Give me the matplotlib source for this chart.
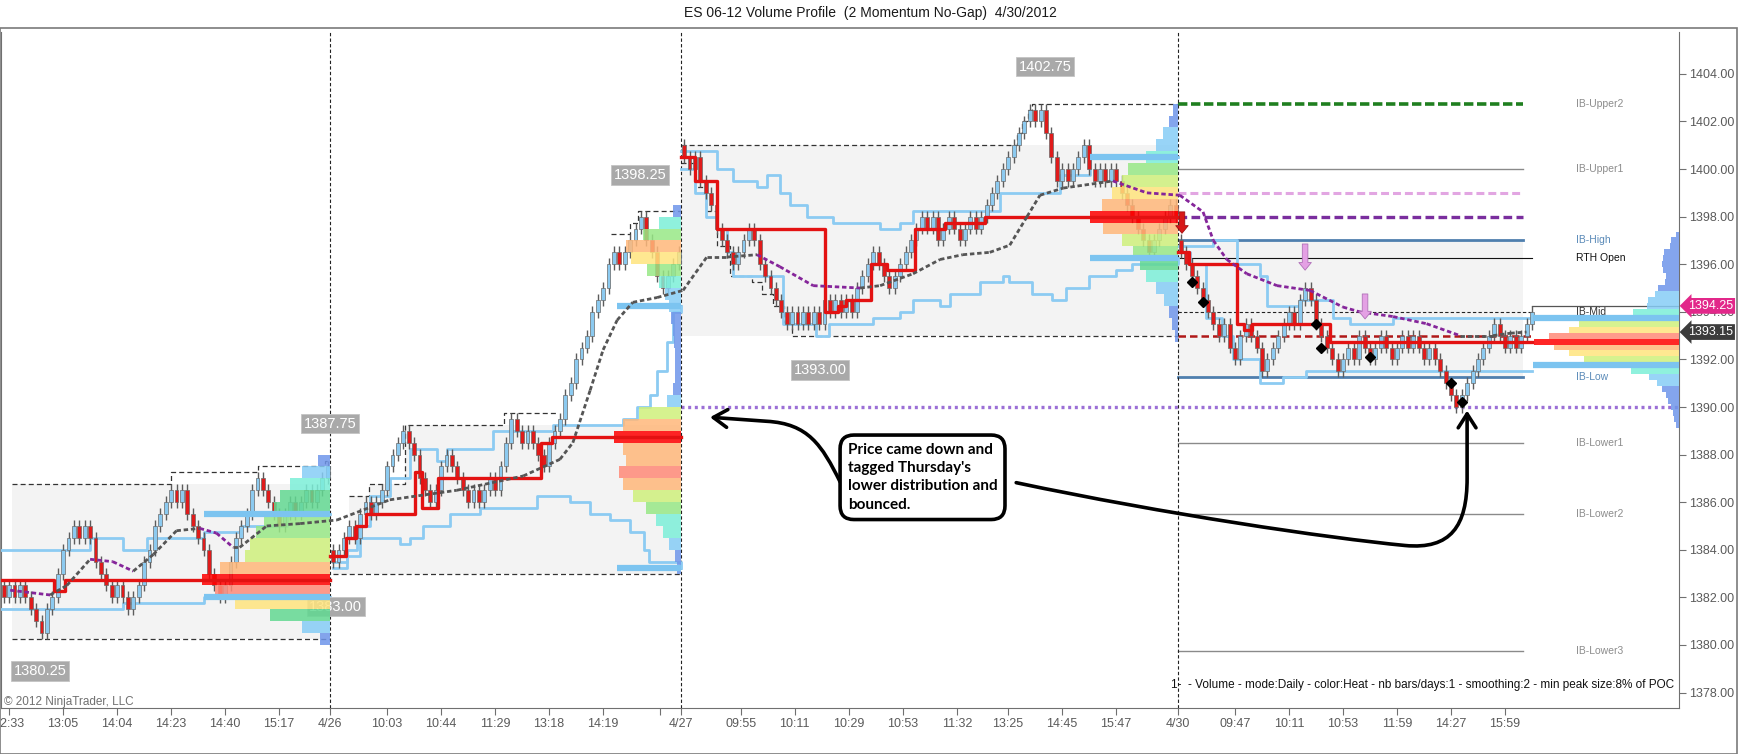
import matplotlib
matplotlib.use('Agg')
import numpy as np
import matplotlib.pyplot as plt
from matplotlib.collections import LineCollection
from matplotlib.patches import Rectangle, FancyArrowPatch
from matplotlib.path import Path

plt.rcParams['font.family'] = ['Liberation Sans', 'DejaVu Sans']
NARROW = ['Liberation Sans Narrow', 'Liberation Sans', 'DejaVu Sans']

# ES 06-12, 2 momentum no-gap bars - close of every bar, one list per session
closes_0425 = [1382.0, 1382.5, 1382.0, 1382.5, 1382.0, 1381.5, 1381.0, 1380.5, 1381.5, 1382.0,
               1383.0, 1384.0, 1384.5, 1385.0, 1384.5, 1385.0, 1384.5, 1383.5, 1383.0, 1382.5,
               1382.0, 1382.5, 1382.0, 1381.5, 1382.0, 1382.5, 1383.5, 1384.0, 1385.0, 1385.5,
               1386.0, 1386.5, 1386.0, 1386.5, 1385.5, 1385.0, 1384.5, 1384.0, 1383.0, 1382.5,
               1382.0, 1382.5, 1383.5, 1384.5, 1385.0, 1385.5, 1386.5, 1387.0, 1386.5, 1386.0,
               1385.5, 1385.0, 1385.5, 1386.0, 1385.5, 1386.0, 1386.5, 1386.0, 1386.5, 1387.0,
               1387.5]
closes_0426 = [1383.5, 1384.0, 1384.5, 1385.0, 1384.5, 1385.5, 1386.0, 1385.5, 1386.0, 1386.5,
               1387.5, 1388.0, 1388.5, 1389.0, 1388.5, 1388.0, 1387.0, 1386.5, 1386.0, 1386.5,
               1387.5, 1388.0, 1387.5, 1387.0, 1386.5, 1386.0, 1386.5, 1386.0, 1386.5, 1387.0,
               1386.5, 1387.5, 1388.5, 1389.5, 1389.0, 1388.5, 1389.0, 1388.5, 1388.0, 1387.5,
               1388.5, 1389.0, 1389.5, 1390.5, 1391.0, 1392.0, 1392.5, 1393.0, 1394.0, 1394.5,
               1395.0, 1396.0, 1396.5, 1396.0, 1396.5, 1397.0, 1397.5, 1398.0, 1397.0, 1396.5,
               1395.5, 1395.0, 1395.5, 1396.0, 1396.5]
closes_0427 = [1400.5, 1400.0, 1400.5, 1399.5, 1399.0, 1398.5, 1397.5, 1397.0, 1396.5, 1396.0,
               1396.5, 1397.0, 1397.5, 1397.0, 1396.0, 1395.5, 1395.0, 1394.5, 1394.0, 1393.5,
               1394.0, 1393.5, 1394.0, 1393.5, 1394.0, 1393.5, 1394.5, 1394.0, 1394.5, 1394.0,
               1394.5, 1394.0, 1395.0, 1395.5, 1396.0, 1396.5, 1396.0, 1395.5, 1395.0, 1395.5,
               1396.0, 1396.5, 1397.0, 1397.5, 1398.0, 1397.5, 1398.0, 1397.0, 1397.5, 1398.0,
               1397.5, 1397.0, 1397.5, 1398.0, 1397.5, 1398.0, 1398.5, 1399.0, 1399.5, 1400.0,
               1400.5, 1401.0, 1401.5, 1402.0, 1402.5, 1402.0, 1402.5, 1401.5, 1400.5, 1399.5,
               1400.0, 1399.5, 1400.0, 1400.5, 1401.0, 1400.0, 1399.5, 1400.0, 1399.5, 1400.0,
               1399.5, 1399.0, 1398.5, 1398.0, 1397.5, 1397.0, 1396.5, 1397.0, 1397.5, 1398.0,
               1398.5, 1398.0]
closes_0430 = [1396.5, 1396.0, 1395.5, 1395.0, 1394.5, 1394.0, 1393.5, 1393.0, 1393.5, 1392.5,
               1392.0, 1393.0, 1393.5, 1393.0, 1392.5, 1391.5, 1392.0, 1392.5, 1393.0, 1393.5,
               1394.0, 1393.5, 1394.5, 1395.0, 1394.5, 1393.5, 1393.0, 1392.5, 1392.0, 1391.5,
               1392.0, 1392.5, 1392.0, 1393.0, 1392.5, 1392.0, 1392.5, 1393.0, 1392.5, 1392.0,
               1392.5, 1393.0, 1392.5, 1393.0, 1392.5, 1392.0, 1392.5, 1392.0, 1391.5, 1391.0,
               1390.5, 1390.0, 1390.5, 1391.0, 1391.5, 1392.0, 1392.5, 1393.0, 1393.5, 1393.0,
               1392.5, 1393.0, 1392.5, 1393.0, 1393.5, 1394.0]
session_opens = [1382.5, 1384.0, 1401.0, 1397.0]

# x axis: bar index ticks
tick_pos = [1, 11, 21, 31, 41, 51, 60.5, 71, 81, 91, 101, 111, 121.5, 125.5, 136.5, 146.5,
            156.5, 166.5, 176.5, 186, 196, 206, 217.5, 228, 238, 248, 258, 268, 278]
tick_labels = ['12:33', '13:05', '14:04', '14:23', '14:40', '15:17', '4/26', '10:03', '10:44',
               '11:29', '13:18', '14:19', '', '4/27', '09:55', '10:11', '10:29', '10:53', '11:32',
               '13:25', '14:45', '15:47', '4/30', '09:47', '10:11', '10:53', '11:59', '14:27', '15:59']
separators = [60.5, 125.5, 217.5]

# shaded IB boxes per session
box_x0 = [1.5, 61, 125.5, 217.5]
box_x1 = [60.5, 125.5, 217.5, 281.3]
box_lo = [1380.25, 1383.0, 1393.0, 1391.25]
s2_box_top_x = [61, 63.9, 67.6, 74.4, 125.5]
s2_box_top_y = [1384.0, 1386.25, 1386.75, 1389.25, 1389.25]
box_hi = [1386.75, None, 1401.0, 1397.0]

# developing session high / low (dashed)
hi_x = [[1.5, 31, 47, 59.5, 60.5],
        [63.9, 67.6, 74.4, 92.7, 102.5],
        [112.5, 116, 117.5, 125.5],
        [125.5, 187.6, 188.6, 189.6, 190.5, 217.5]]
hi_y = [[1386.75, 1387.25, 1387.5, 1387.75, 1387.75],
        [1386.25, 1386.75, 1389.25, 1389.75, 1389.75],
        [1397.25, 1397.75, 1398.25, 1398.25],
        [1401.0, 1401.5, 1402.0, 1402.5, 1402.75, 1402.75]]
lo_x = [[1.5, 60.5], [61, 125.5],
        [125.5, 128, 130, 132, 134.5, 138.5, 140.5, 142.5, 144.5, 146, 217.5]]
lo_y = [[1380.25, 1380.25], [1383.0, 1383.0],
        [1400.25, 1399.25, 1398.25, 1396.75, 1395.5, 1395.25, 1394.75, 1394.25, 1393.5, 1393.0, 1393.0]]

# developing POC (red steps)
poc_x = [[-0.5, 9.3, 11.3, 60.5],
         [60.5, 63.4, 65.2, 67.0, 76.2, 77.4, 80.5, 99.5, 101.5, 125.5],
         [125.5, 128, 132, 152, 154.5, 156, 160.6, 163.5, 168.8, 174.4, 181.8, 217.5],
         [217.5, 219.5, 228.4, 229.6, 231.2, 245.7, 283]]
poc_y = [[1382.75, 1382.25, 1382.75, 1382.75],
         [1383.75, 1384.5, 1385.0, 1385.5, 1387.25, 1385.75, 1387.0, 1388.5, 1388.75, 1388.75],
         [1400.5, 1399.5, 1397.5, 1394.0, 1394.25, 1394.5, 1396.0, 1395.75, 1397.5, 1397.75, 1398.0, 1398.0],
         [1396.5, 1396.0, 1393.5, 1393.25, 1393.5, 1392.75, 1392.75]]

# developing value area high / low (light blue steps)
vah_x = [[-0.5, 16, 22, 26.5, 37, 44, 52.4, 60.5],
         [61, 63.5, 65.4, 67.8, 71.5, 75.2, 80.2, 82.1, 90.6, 101.7, 114.7, 117.3, 119.7, 121,
          122.8, 124, 125.5],
         [125.5, 132, 135, 139.5, 141.3, 143.7, 145.6, 148.7, 153.6, 162.3, 166, 168.4, 184.5,
          195.6, 201.2, 217.5],
         [217.5, 224, 228.4, 232.6, 233.9, 240, 246.2, 249.3, 257.3, 283]]
vah_y = [[1384.0, 1384.5, 1384.0, 1384.5, 1384.75, 1385.0, 1385.5, 1385.5],
         [1383.5, 1384.0, 1385.0, 1386.25, 1387.0, 1388.25, 1387.75, 1388.25, 1389.0, 1389.25,
          1389.5, 1390.0, 1390.5, 1391.5, 1392.75, 1394.0, 1394.25],
         [1400.75, 1400.0, 1399.5, 1399.25, 1399.75, 1399.0, 1398.5, 1398.0, 1397.75, 1397.5,
          1397.75, 1398.25, 1399.0, 1399.75, 1400.5, 1400.5],
         [1396.75, 1397.0, 1396.0, 1395.5, 1394.25, 1394.5, 1393.75, 1393.5, 1393.75, 1393.75]]
val_x = [[-0.5, 22, 37, 60.5],
         [61, 63.5, 66, 73.4, 75.2, 77.7, 82.6, 88.2, 98.7, 104.9, 108.6, 112.3, 116, 118.5,
          119.5, 125.5],
         [125.5, 128, 130, 132, 134, 135, 144.3, 150.4, 152.8, 157.7, 161, 166, 168.4, 173.3,
          175.2, 180.8, 185, 186.2, 190.5, 194.2, 196.7, 201, 206, 209, 217.5],
         [217.5, 219.6, 222.6, 225.7, 227.6, 232.6, 236.9, 241.2, 257.3, 283]]
val_y = [[1381.5, 1381.75, 1382.0, 1382.0],
         [1383.25, 1383.75, 1384.5, 1384.25, 1384.5, 1385.0, 1385.5, 1385.75, 1386.25, 1386.0,
          1385.5, 1385.25, 1384.75, 1384.0, 1383.5, 1383.25],
         [1400.0, 1399.0, 1398.0, 1397.5, 1396.5, 1395.5, 1393.5, 1393.0, 1393.5, 1393.5, 1393.75,
          1394.0, 1394.5, 1394.25, 1394.75, 1395.25, 1395.5, 1395.25, 1394.75, 1394.5, 1395.0,
          1395.5, 1395.75, 1396.0, 1396.25],
         [1396.5, 1396.0, 1393.75, 1393.0, 1392.0, 1391.0, 1391.25, 1391.5, 1391.5, 1391.5]]

# final value area of each profile (thick light blue)
va_final_x0 = [37, 113.6, 201.2, 283.2]
va_final_hi = [1385.5, 1394.25, 1400.5, 1393.75]
va_final_lo = [1382.0, 1383.25, 1396.25, 1391.75]

# moving average (dotted, gray rising / purple falling)
ma_x = [1.2, 8.6, 11.7, 16, 20.2, 24, 27.7, 32, 36.3, 39.4, 42.5, 43.7, 48.7, 54.9, 61.7,
        71.5, 83.9, 96.2, 103, 105.4, 108.6, 111, 113.6, 116.5, 121, 125.8, 130.2, 133.9,
        139.5, 143.7, 149.9, 158.6, 162.3, 168.4, 173.4, 177.6, 182.6, 186.3, 189.5, 191.9,
        196.2, 205.4, 211.7, 217.8, 222.1, 224, 226.5, 230.2, 235.8, 241.9, 248, 251.1, 257.3,
        263.5, 269.7, 275.8, 279, 282]
ma_y = [1382.3, 1382.1, 1382.5, 1383.6, 1383.5, 1383.1, 1383.8, 1384.8, 1384.9, 1384.7,
        1384.1, 1384.1, 1385.0, 1385.1, 1385.25, 1386.1, 1386.5, 1387.1, 1387.8, 1388.5,
        1390.7, 1392.4, 1393.65, 1394.4, 1394.6, 1394.9, 1396.3, 1396.3, 1396.4, 1395.9,
        1395.1, 1395.0, 1395.1, 1395.6, 1396.2, 1396.4, 1396.5, 1396.8, 1398.0, 1398.9,
        1399.2, 1399.5, 1399.0, 1398.9, 1398.2, 1397.0, 1396.2, 1395.6, 1395.1, 1394.9,
        1394.2, 1394.0, 1393.8, 1393.5, 1393.0, 1393.0, 1393.1, 1393.15]

# volume profiles (relative volume per price level)
prof1_levels = np.arange(1380.25, 1387.76, 0.5)
prof1_vol = [10, 28, 60, 95, 115, 128, 110, 85, 80, 74, 66, 56, 50, 40, 28, 12]
prof2_levels = np.arange(1383.25, 1398.26, 0.5)
prof2_vol = [4, 6, 12, 18, 25, 35, 48, 58, 62, 55, 58, 67, 58, 42, 14, 8, 6, 6, 6, 7, 8, 10,
             12, 16, 22, 34, 50, 55, 38, 22, 8]
prof3_levels = np.arange(1393.0, 1402.51, 0.5)
prof3_vol = [3, 6, 9, 14, 22, 32, 38, 45, 56, 75, 88, 76, 66, 56, 50, 32, 22, 15, 9, 5]
prof4_levels = np.arange(1389.25, 1397.26, 0.25)
prof4_vol = [3, 5, 6, 8, 11, 13, 17, 22, 30, 48, 70, 95, 110, 125, 145, 130, 110, 100, 75, 46,
             32, 31, 24, 21, 14, 13, 16, 17, 16, 15, 9, 8, 3]

# 4/30 reference levels
ib_names = ['IB-Upper2', 'IB-Upper1', 'IB-High', 'RTH Open', 'IB-Mid', 'IB-Low',
            'IB-Lower1', 'IB-Lower2', 'IB-Lower3']
ib_levels = [1402.75, 1400.0, 1397.0, 1396.25, 1394.0, 1391.25, 1388.5, 1385.5, 1379.75]
prior_pink = 1399.0
prior_purple = 1398.0
prior_low = 1393.0
thursday_dist = 1390.0
last_price = 1394.25
avg_price = 1393.15

# signals on 4/30
diamond_x = [220, 222, 243, 244, 253, 268, 270]
diamond_y = [1395.25, 1394.4, 1393.5, 1392.5, 1392.1, 1391.0, 1390.2]
sig_x = [218.2, 241, 252.1]
sig_tail = [1398.2, 1396.85, 1394.75]
sig_tip = [1397.3, 1395.75, 1393.7]

# session high / low labels
hl_text = ['1380.25', '1383.00', '1387.75', '1398.25', '1393.00', '1402.75']
hl_x = [6.7, 61.5, 60.4, 117.8, 151.2, 192.8]
hl_y = [1378.9, 1381.6, 1389.3, 1399.75, 1391.55, 1404.3]


def heat(r):
    if r >= 0.97:
        return '#ff0000'
    if r >= 0.88:
        return '#ff8a78'
    if r >= 0.80:
        return '#ffb87a'
    if r >= 0.72:
        return '#ffe47e'
    if r >= 0.62:
        return '#cff07c'
    if r >= 0.50:
        return '#98e886'
    if r >= 0.38:
        return '#62d992'
    if r >= 0.26:
        return '#7cefd8'
    if r >= 0.15:
        return '#86cdf6'
    return '#6f96ea'


fig = plt.figure(figsize=(17.4, 7.54), dpi=100)
ax = fig.add_axes([1 / 1740, 46 / 754, 1678 / 1740, 676 / 754])
ax.set_xlim(-0.5, 310.24)
ax.set_ylim(1377.35, 1405.76)
right_edge = ax.get_xlim()[1]

# shaded boxes
for k in range(4):
    if box_hi[k] is None:
        ax.fill_between(s2_box_top_x, box_lo[k], s2_box_top_y, step='post',
                        color='#f3f3f3', lw=0, zorder=1)
    else:
        ax.add_patch(Rectangle((box_x0[k], box_lo[k]), box_x1[k] - box_x0[k],
                               box_hi[k] - box_lo[k], fc='#f3f3f3', ec='none', zorder=1))

for xs, ys in zip(hi_x + lo_x, hi_y + lo_y):
    ax.plot(xs, ys, drawstyle='steps-post', color='#333333', lw=0.9,
            ls=(0, (4, 2.5)), zorder=2)

# separators
for s in separators:
    ax.axvline(s, color='#222222', lw=0.8, ls=(0, (3, 2)), zorder=3)

# 4/30 levels
sep = separators[-1]
ib_end = box_x1[-1]
last_bar = len(closes_0425) + len(closes_0426) + len(closes_0427) + len(closes_0430) - 1
ax.plot([sep, ib_end], [ib_levels[0]] * 2, color='#1f7f1f', lw=2.6, ls=(0, (2.6, 1)), zorder=2.5)
ax.plot([sep, ib_end], [ib_levels[1]] * 2, color='#8a8a8a', lw=1.0, zorder=2.5)
ax.plot([sep, ib_end], [prior_pink] * 2, color='#e2a6e2', lw=2.2, ls=(0, (2.6, 1.3)), zorder=2.5)
ax.plot([sep, ib_end], [prior_purple] * 2, color='#7a2e9e', lw=2.4, ls=(0, (2.6, 1.3)), zorder=2.5)
ax.plot([sep, ib_end], [ib_levels[2]] * 2, color='#4f7fae', lw=2.0, zorder=2.5)
ax.plot([sep, last_bar], [ib_levels[3]] * 2, color='#111111', lw=0.8, zorder=2.5)
ax.plot([sep, last_bar], [ib_levels[4]] * 2, color='#222222', lw=0.8, ls=(0, (3, 2)), zorder=2.5)
ax.plot([sep, last_bar], [prior_low] * 2, color='#b01818', lw=1.8, ls=(0, (3, 1.6)), zorder=2.5)
ax.plot([sep, ib_end], [ib_levels[5]] * 2, color='#4f7fae', lw=2.0, zorder=2.5)
for lv in ib_levels[6:]:
    ax.plot([sep, ib_end], [lv] * 2, color='#8a8a8a', lw=1.0, zorder=2.5)
ax.plot([separators[1], right_edge], [thursday_dist] * 2, color='#9b6fd6', lw=2.4,
        ls=(0, (0.9, 1.1)), zorder=2.5)
ax.plot([last_bar, right_edge], [last_price] * 2, color='#555555', lw=0.9, zorder=2.5)

# developing value area
for xs, ys in zip(vah_x + val_x, vah_y + val_y):
    ax.plot(xs, ys, drawstyle='steps-post', color='#8ccbf2', lw=2.0, zorder=3.5)

# candles
sessions = [closes_0425, closes_0426, closes_0427, closes_0430]
closes = np.array(sum(sessions, []))
opens = []
for first, seg in zip(session_opens, sessions):
    prev = first
    for c in seg:
        opens.append(prev)
        prev = c
opens = np.array(opens)
xb = np.arange(len(closes))
up = closes > opens
body_lo = np.minimum(opens, closes)
body_h = np.abs(closes - opens)
ax.vlines(xb, body_lo - 0.25, body_lo + body_h + 0.25, color='#5c5c5c', lw=1.0, zorder=4)
ax.bar(xb, body_h, bottom=body_lo, width=0.74, color=np.where(up, '#8ccaf0', '#e01b1b'),
       edgecolor='#6a6a6a', linewidth=0.5, zorder=4.2)

# session high/low labels
for t, x, y in zip(hl_text, hl_x, hl_y):
    ax.text(x, y, t, ha='center', va='center', color='white', fontsize=10.5,
            bbox=dict(boxstyle='square,pad=0.18', fc='#a9a9a9', ec='#c4c4c4', lw=0.6), zorder=4.5)

# volume profiles
profiles = [(prof1_levels, prof1_vol, 0.5, separators[0], 23.7),
            (prof2_levels, prof2_vol, 0.5, separators[1], 12.4),
            (prof3_levels, prof3_vol, 0.5, separators[2], 16.3),
            (prof4_levels, prof4_vol, 0.25, right_edge, 26.9)]
for levels, vol, step, xr, length in profiles:
    vol = np.array(vol, dtype=float)
    r = vol / vol.max()
    w = r * length
    ax.barh(levels, w, left=xr - w, height=step, color=[heat(v) for v in r],
            alpha=0.85, lw=0, zorder=5)

# POC lines
for xs, ys in zip(poc_x, poc_y):
    ax.plot(xs, ys, drawstyle='steps-post', color='#e31212', lw=2.4, zorder=6)

# final value area markers
x_ends = separators + [right_edge]
for x0, x1, hi, lo in zip(va_final_x0, x_ends, va_final_hi, va_final_lo):
    ax.plot([x0, x1], [hi, hi], color='#7cc4f0', lw=4.5, solid_capstyle='butt', zorder=6)
    ax.plot([x0, x1], [lo, lo], color='#7cc4f0', lw=4.5, solid_capstyle='butt', zorder=6)

# moving average
pts = np.column_stack([ma_x, ma_y])
segs = np.stack([pts[:-1], pts[1:]], axis=1)
cols = ['#555555' if b >= a else '#85259a' for a, b in zip(ma_y[:-1], ma_y[1:])]
ax.add_collection(LineCollection(segs, colors=cols, linewidths=2.0,
                                 linestyles=(0, (1.6, 1.0)), zorder=7))

# signals
ax.plot(diamond_x, diamond_y, 'D', color='black', ms=5.5, zorder=8)
sig_fc = ['#d81818', '#e4a0e4', '#e4a0e4']
sig_ec = ['#a01010', '#b070b8', '#b070b8']
for x, t0, t1, fc, ec in zip(sig_x, sig_tail, sig_tip, sig_fc, sig_ec):
    ax.annotate('', xy=(x, t1), xytext=(x, t0),
                arrowprops=dict(arrowstyle='simple,head_length=0.55,head_width=0.9,tail_width=0.4',
                                fc=fc, ec=ec, lw=0.6, shrinkA=0, shrinkB=0, mutation_scale=10),
                zorder=8)

# right labels for the 4/30 levels
lab_cols = ['#8c8c8c', '#8c8c8c', '#5a8ab8', '#111111', '#333333', '#5a8ab8',
            '#8c8c8c', '#8c8c8c', '#8c8c8c']
for name, lv, c in zip(ib_names, ib_levels, lab_cols):
    ax.text(291.2, lv, name, color=c, fontsize=7.5, ha='left', va='center', zorder=4.6)

# annotation
ax.text(156.3, 1388.5, "Price came down and\ntagged Thursday's\nlower distribution and\nbounced.",
        family=['Lato', 'DejaVu Sans'], fontsize=11, fontweight='bold', ha='left', va='top',
        linespacing=1.4, zorder=12,
        bbox=dict(boxstyle='round,pad=0.5,rounding_size=0.9', fc='white', ec='black', lw=2.6))
p1 = Path([(154.9, 1386.85), (151.5, 1388.4), (149.0, 1389.3), (141.3, 1389.4), (130.8, 1389.57)],
          [Path.MOVETO, Path.CURVE4, Path.CURVE4, Path.CURVE4, Path.LINETO])
p2 = Path([(187.5, 1386.82), (215, 1385.5), (245, 1384.5), (259.5, 1384.18),
           (268, 1384.0), (271, 1385.0), (271, 1387.0), (271, 1389.85)],
          [Path.MOVETO, Path.CURVE4, Path.CURVE4, Path.CURVE4,
           Path.CURVE4, Path.CURVE4, Path.CURVE4, Path.LINETO])
for p in (p1, p2):
    ax.add_patch(FancyArrowPatch(path=p, arrowstyle='->,head_length=0.5,head_width=0.32',
                                 mutation_scale=20, lw=2.6, color='black', zorder=11))

# axes styling
ax.set_xticks(tick_pos)
ax.set_xticklabels(tick_labels)
ax.yaxis.tick_right()
yt = np.arange(1378, 1405, 2)
ax.set_yticks(yt)
ax.set_yticklabels([f'{v:.2f}' for v in yt])
ax.tick_params(axis='x', length=5, color='#707070', labelsize=9, labelcolor='#5a5a5a', pad=2)
ax.tick_params(axis='y', length=5, color='#707070', labelsize=9, labelcolor='#5a5a5a', pad=2)
for lab in ax.get_xticklabels() + ax.get_yticklabels():
    lab.set_family(NARROW)
ax.spines['top'].set_visible(False)
for sp in ('left', 'bottom', 'right'):
    ax.spines[sp].set_color('#707070')

# price tags on the axis
ax.text(1.0054, last_price, f'{last_price:.2f}', transform=ax.get_yaxis_transform(),
        ha='left', va='center', color='white', fontsize=9, family=NARROW, clip_on=False,
        bbox=dict(boxstyle='larrow,pad=0.15', fc='#e2288a', ec='none'), zorder=20)
ax.text(1.0054, avg_price, f'{avg_price:.2f}', transform=ax.get_yaxis_transform(),
        ha='left', va='center', color='white', fontsize=9, family=NARROW, clip_on=False,
        bbox=dict(boxstyle='larrow,pad=0.15', fc='#3c3c3c', ec='none'), zorder=20)

ax.text(0.997, 0.034, '1-  - Volume - mode:Daily - color:Heat - nb bars/days:1 - smoothing:2 - '
        'min peak size:8% of POC', transform=ax.transAxes, ha='right', va='center',
        fontsize=8.5, family=NARROW, color='#111111', zorder=9)
ax.text(0.002, 0.0095, '\u00a9 2012 NinjaTrader, LLC', transform=ax.transAxes, ha='left',
        va='center', fontsize=8.5, family=NARROW, color='#707070', zorder=9)

fig.text(0.5, 1 - 13 / 754, 'ES 06-12 Volume Profile  (2 Momentum No-Gap)  4/30/2012',
         ha='center', va='center', fontsize=10, color='#1a1a1a')
fig.add_artist(Rectangle((0.3 / 1740, 0.5 / 754), 1736.5 / 1740, 725.5 / 754,
                         transform=fig.transFigure, fill=False, ec='#7a7a7a', lw=1.2))

fig.savefig('out.png', dpi=100)
